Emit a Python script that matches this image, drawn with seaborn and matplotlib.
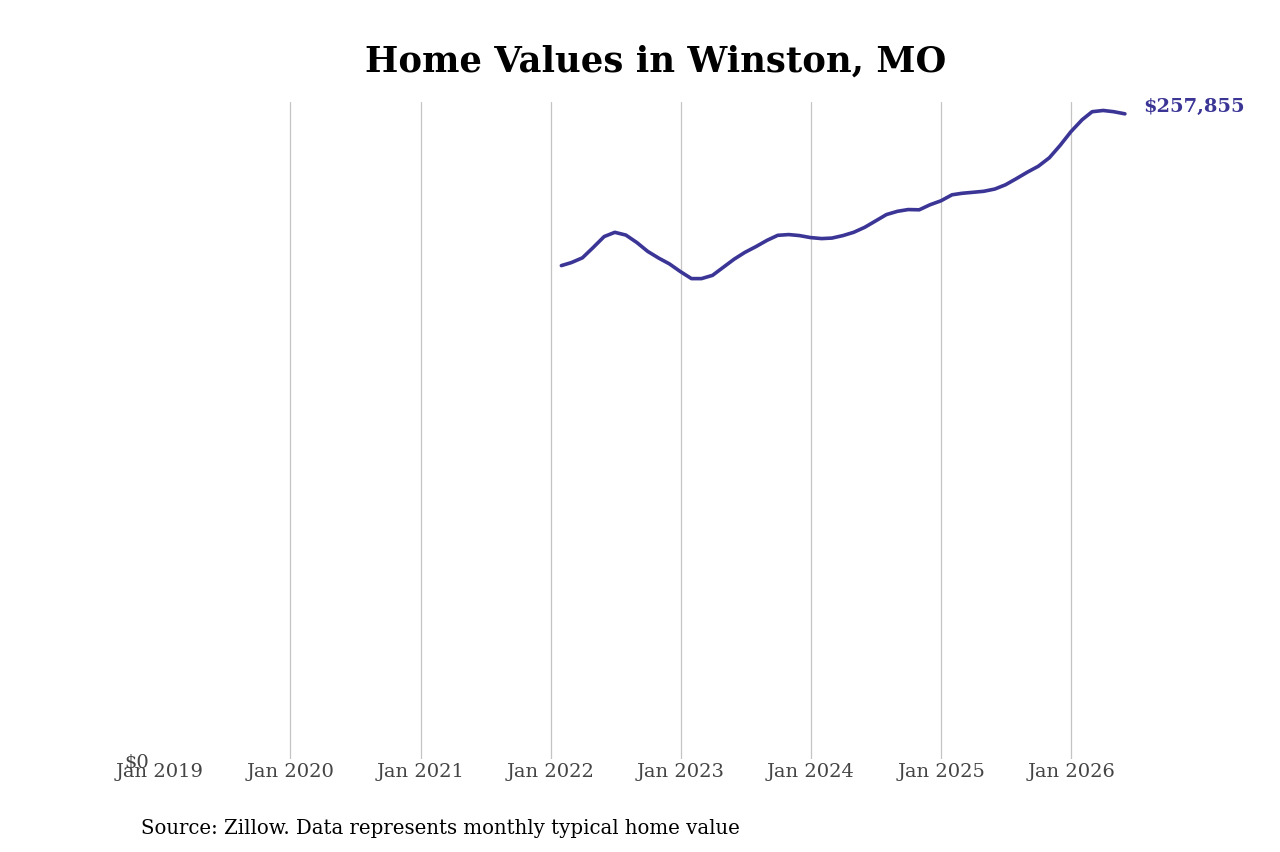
import pandas as pd
import numpy as np
import matplotlib
matplotlib.use('Agg')
import matplotlib.pyplot as plt
import seaborn as sns

# Monthly typical home value, Winston MO
dates = pd.date_range('2022-01-31', '2026-05-31', freq='ME')
values = [
    197200, 198400, 200300, 204400, 208800, 210500, 209400, 206400, 202900, 200200, 197900, 194800,
    192000, 192000, 193300, 196500, 199800, 202500, 204800, 207300, 209300, 209600, 209200, 208400,
    208000, 208200, 209200, 210500, 212500, 215000, 217600, 218900, 219600, 219500, 221500, 223100,
    225500, 226100, 226500, 226900, 227800, 229500, 232000, 234600, 236900, 240300, 245200, 250800,
    255500, 258700, 259200, 258700, 257855,
]
year_ticks = pd.date_range('2019-01-01', '2026-01-01', freq='YS')
tick_labels = [d.strftime('Jan %Y') for d in year_ticks]

df = pd.DataFrame({'date': dates, 'value': values})
line_color = '#3b3596'

sns.set_style('white')
plt.rcParams['font.family'] = ['DejaVu Serif']

fig = plt.figure(figsize=(12.8, 8.53), dpi=100)
ax = fig.add_axes([0.125, 0.109, 0.775, 0.77])

sns.lineplot(data=df, x='date', y='value', ax=ax, color=line_color, linewidth=2.6)

ax.set_xlim(pd.Timestamp('2019-01-01'), pd.Timestamp('2026-08-15'))
ax.set_ylim(0, 262500)
ax.set_xticks(year_ticks)
ax.set_xticklabels(tick_labels, fontsize=14, color='#444444')
ax.set_yticks([0])
ax.set_yticklabels(['$0'], fontsize=14, color='#444444')
ax.tick_params(axis='both', length=0, pad=2)
ax.tick_params(axis='y', pad=8)
ax.xaxis.grid(True, color='#c4c4c4', linewidth=0.9)
ax.yaxis.grid(False)
# no gridline on the left edge (Jan 2019)
ax.get_xgridlines()[0].set_visible(False)
for s in ax.spines.values():
    s.set_visible(False)
ax.set_xlabel('')
ax.set_ylabel('')

last = df.iloc[-1]
ax.annotate(f"${last['value']:,.0f}", xy=(last['date'], last['value']),
            xytext=(13, 6), textcoords='offset points', fontsize=14,
            fontweight='bold', color=line_color, va='center', ha='left')

ax.set_title('Home Values in Winston, MO', fontsize=25.5, fontweight='bold',
             color='black', pad=23)
fig.text(0.11, 0.022, 'Source: Zillow. Data represents monthly typical home value',
         fontsize=14.2, color='black')

fig.savefig('out.png', dpi=100)
